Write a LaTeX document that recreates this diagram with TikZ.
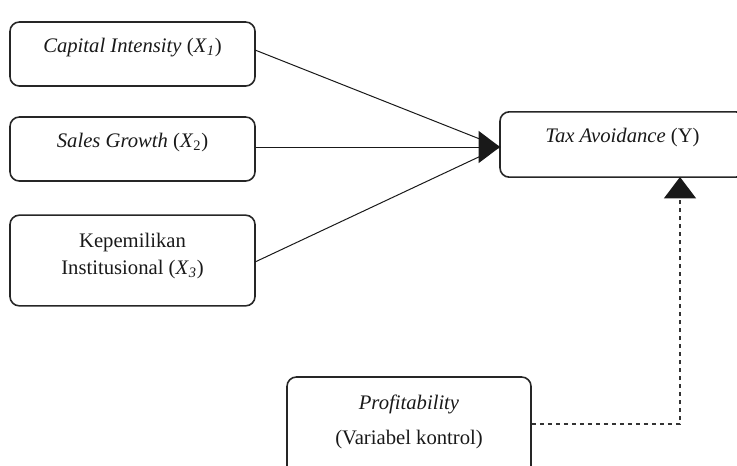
\documentclass[tikz,border=0pt]{standalone}
\usepackage{fontspec}
\setmainfont{Liberation Serif}
\usetikzlibrary{arrows.meta}
\begin{document}
\begin{tikzpicture}[x=0.75pt,y=-0.75pt,
  box/.style={draw=black!85, line width=1.2pt, rounded corners=7pt, inner sep=0pt},
  txt/.style={font=\fontsize{15.5}{20}\selectfont, inner sep=0pt, align=center, text=black!90},
  conn/.style={line width=0.75pt, draw=black!90},
  dashconn/.style={line width=0.8pt, draw=black!80, dash pattern=on 3.5pt off 2.5pt},
  bigtip/.style={-{Triangle[length=16pt,width=24pt]}}
]
\useasboundingbox (0,0) rectangle (737,465);
% boxes
\node[box, minimum width=183.75pt, minimum height=48pt] (x1) at (132.5,54) {};
\node[box, minimum width=183.75pt, minimum height=48pt] (x2) at (132.5,149) {};
\node[box, minimum width=183.75pt, minimum height=68pt] (x3) at (132.5,260.5) {};
\node[box, minimum width=183.75pt, minimum height=49pt] (y) at (622.5,144.5) {};
\node[box, minimum width=183pt, minimum height=73.5pt] (p) at (409,426) {};
% texts
\node[txt] (t1) at (132.5,48) {\textit{Capital Intensity} (\textit{X}\textsubscript{\textit{1}})};
\node[txt] (t2) at (132.5,143) {\textit{Sales Growth} (\textit{X}\textsubscript{2})};
\node[txt] (t3) at (132.5,256) {Kepemilikan\\Institusional (\textit{X}\textsubscript{\textit{3}})};
\node[txt] (ty) at (622.5,138) {\textit{Tax Avoidance} (Y)};
\node[txt] (tp1) at (409,404) {\textit{Profitability}};
\node[txt] (tp2) at (409,440) {(Variabel kontrol)};
% connectors
\coordinate (tip) at (500,147);
\coordinate (a1) at (255,50);
\coordinate (a3) at (255,262);
\draw[conn] (a1) -- (tip);
\draw[conn] (a3) -- (tip);
\draw[conn, bigtip] (x2.east |- tip) -- (tip);
\coordinate (c1) at (680,424);
\coordinate (tip2) at (680,177);
\draw[dashconn] (p.east |- c1) -- (c1) -- ([yshift=-12pt]tip2);
\draw[conn, bigtip] ([yshift=-12pt]tip2) -- (tip2);
\end{tikzpicture}
\end{document}
